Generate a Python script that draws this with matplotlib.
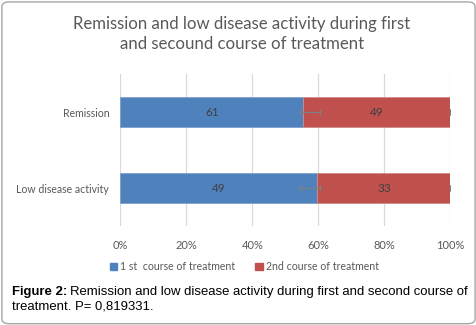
import numpy as np
import matplotlib
matplotlib.use("Agg")
import matplotlib.pyplot as plt
from matplotlib.patches import FancyBboxPatch, Patch

categories = ["Low disease activity", "Remission"]
first_course = [49, 61]
second_course = [33, 49]
# error bar extent on the first series, in percent
err_left = [54.5, 54.5]
err_right = [60.6, 60.6]
series_names = ["1 st  course of treatment", "2nd course of treatment"]
ticks = [0, 20, 40, 60, 80, 100]

blue = "#4F81BD"
red = "#C0504D"
txt = "#595959"

first = np.array(first_course, float)
second = np.array(second_course, float)
total = first + second
p1 = first / total * 100
p2 = second / total * 100

fig = plt.figure(figsize=(4.77, 3.25), dpi=100)
fig.patches.append(FancyBboxPatch((0.004, 0.004), 0.992, 0.99, boxstyle="round,pad=0,rounding_size=0.015",
                                  transform=fig.transFigure, fill=False, edgecolor="#a6a6a6", lw=1.0))

ax = fig.add_axes([0.2522, 0.3046, 0.6918, 0.4677])
y = np.arange(len(categories))
ax.barh(y, p1, height=0.4, color=blue, edgecolor="#7f9fcf", lw=0.6, zorder=2)
ax.barh(y, p2, left=p1, height=0.4, color=red, edgecolor="#d08a88", lw=0.6, zorder=2)

for i in range(len(categories)):
    ax.text(p1[i] / 2, y[i], f"{first_course[i]}", ha="center", va="center", color="#404040",
            fontsize=8.5, family="Lato", zorder=4)
    ax.text(p1[i] + p2[i] / 2, y[i], f"{second_course[i]}", ha="center", va="center", color="#404040",
            fontsize=8.5, family="Lato", zorder=4)

xerr = np.array([p1 - np.array(err_left), np.array(err_right) - p1])
ax.errorbar(p1, y, xerr=xerr, fmt="none", ecolor="#7f7f7f", elinewidth=0.9, capsize=2.5, zorder=3)
ax.errorbar(p1 + p2, y, xerr=0, fmt="none", ecolor="#7f7f7f", elinewidth=0.9, capsize=2.5, zorder=3)

ax.set_xlim(0, 100)
ax.set_ylim(-0.5, 1.5)
ax.set_xticks(ticks)
ax.set_xticklabels([f"{t}%" for t in ticks])
ax.set_yticks(y)
ax.set_yticklabels(categories)
ax.grid(axis="x", color="#d9d9d9", lw=0.9, zorder=0)
ax.set_axisbelow(True)
for s in ax.spines.values():
    s.set_visible(False)
ax.tick_params(axis="x", length=0, colors=txt, labelsize=8, pad=10)
ax.tick_params(axis="y", length=0, colors=txt, labelsize=7.6, pad=8)
for lab in ax.get_xticklabels() + ax.get_yticklabels():
    lab.set_family("Lato")

fig.text(0.507, 0.895, "Remission and low disease activity during first\nand secound course of treatment",
         ha="center", va="center", fontsize=12.1, color=txt, family="Lato", linespacing=1.3)

handles = [Patch(color=blue, label=series_names[0]), Patch(color=red, label=series_names[1])]
fig.legend(handles=handles, loc="center", bbox_to_anchor=(0.512, 0.179), ncol=2, frameon=False,
           prop={"family": "Lato", "size": 7.6}, labelcolor=txt, handlelength=0.7, handleheight=0.7,
           handletextpad=0.3, columnspacing=1.9)

# caption: bold label followed by normal text
bold = fig.text(0.025, 0.103, "Figure 2:", fontsize=9.45, family="Liberation Sans", fontweight="bold",
                va="center")
r = fig.canvas.get_renderer()
bb = bold.get_window_extent(renderer=r)
x2 = (bb.x1 + 3) / fig.bbox.width
fig.text(x2, 0.103, "Remission and low disease activity during first and second course of",
         fontsize=9.45, family="Liberation Sans", va="center")
fig.text(0.025, 0.058, "treatment. P= 0,819331.", fontsize=9.45, family="Liberation Sans", va="center")

plt.savefig("out.png", dpi=100)
